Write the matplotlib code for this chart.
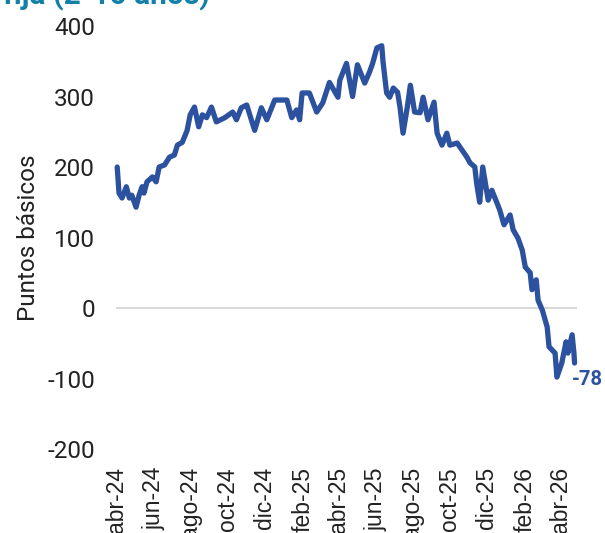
import numpy as np
import pandas as pd
import matplotlib
matplotlib.use("Agg")
import matplotlib.pyplot as plt

# spread series, basis points
dates = [
    "2024-04-02", "2024-04-05", "2024-04-10", "2024-04-17", "2024-04-22", "2024-04-26",
    "2024-05-03", "2024-05-08", "2024-05-13", "2024-05-16", "2024-05-21", "2024-05-30",
    "2024-06-05", "2024-06-10", "2024-06-19", "2024-06-27", "2024-07-05", "2024-07-10",
    "2024-07-18", "2024-07-26", "2024-07-31", "2024-08-07", "2024-08-14", "2024-08-20",
    "2024-08-27", "2024-09-04", "2024-09-12", "2024-09-26", "2024-10-09", "2024-10-15",
    "2024-10-23", "2024-11-01", "2024-11-14", "2024-11-25", "2024-12-04", "2024-12-17",
    "2025-01-06", "2025-01-14", "2025-01-22", "2025-01-27", "2025-01-31", "2025-02-12",
    "2025-02-24", "2025-03-06", "2025-03-17", "2025-03-31", "2025-04-03", "2025-04-14",
    "2025-04-24", "2025-05-02", "2025-05-14", "2025-05-22", "2025-05-27", "2025-06-03",
    "2025-06-11", "2025-06-13", "2025-06-19", "2025-06-24", "2025-06-30", "2025-07-07",
    "2025-07-11", "2025-07-16", "2025-07-23", "2025-07-28", "2025-08-04", "2025-08-13",
    "2025-08-18", "2025-08-26", "2025-09-05", "2025-09-10", "2025-09-18", "2025-09-26",
    "2025-10-01", "2025-10-13", "2025-10-21", "2025-10-29", "2025-11-03", "2025-11-07",
    "2025-11-11", "2025-11-14", "2025-11-19", "2025-11-24", "2025-12-03", "2025-12-09",
    "2025-12-17", "2025-12-22", "2025-12-29", "2026-01-08", "2026-01-13", "2026-01-21",
    "2026-01-28", "2026-02-02", "2026-02-10", "2026-02-13", "2026-02-20", "2026-02-23",
    "2026-03-02", "2026-03-10", "2026-03-13", "2026-03-23", "2026-03-26", "2026-04-03",
    "2026-04-10", "2026-04-13", "2026-04-20", "2026-04-23", "2026-04-24",
]
spread = [
    200, 163, 156, 172, 156, 160,
    143, 160, 172, 163, 179, 186,
    179, 200, 203, 214, 217, 231,
    235, 252, 274, 285, 257, 274,
    270, 285, 264, 270, 278, 267,
    284, 288, 252, 284, 267, 295,
    295, 270, 281, 267, 305, 305,
    278, 291, 320, 299, 323, 347,
    300, 345, 319, 335, 347, 369,
    372, 350, 305, 299, 312, 306,
    285, 248, 285, 316, 278, 277,
    299, 267, 292, 248, 231, 248,
    231, 234, 224, 214, 206, 203,
    200, 177, 150, 200, 153, 167,
    150, 139, 118, 132, 111, 99,
    82, 58, 50, 26, 40, 11,
    -3, -27, -55, -64, -98, -78,
    -48, -64, -38, -64, -78,
]

tick_dates = ["2024-04-01", "2024-06-01", "2024-08-01", "2024-10-01", "2024-12-01",
              "2025-02-01", "2025-04-01", "2025-06-01", "2025-08-01", "2025-10-01",
              "2025-12-01", "2026-02-01", "2026-04-01"]
tick_labels = ["abr-24", "jun-24", "ago-24", "oct-24", "dic-24", "feb-25", "abr-25",
               "jun-25", "ago-25", "oct-25", "dic-25", "feb-26", "abr-26"]
y_ticks = [-200, -100, 0, 100, 200, 300, 400]

x = pd.to_datetime(dates)
line_color = "#2B519F"

fig = plt.figure(figsize=(6.05, 5.33), dpi=100)
ax = fig.add_axes([0.1917, 0.1576, 0.762, 0.7936])

ax.axhline(0, color="#D9D9D9", lw=1.5, zorder=1)
ax.plot(x, spread, color=line_color, lw=3.8, solid_joinstyle="round",
        solid_capstyle="round", zorder=3, clip_on=False)

ax.annotate(f"{spread[-1]:.0f}", xy=(x[-1], spread[-1]), xytext=(-2, -12),
            textcoords="offset points", ha="left", va="center",
            fontsize=14.5, fontweight="bold", color=line_color, family="Roboto",
            annotation_clip=False)

ax.set_ylim(-200, 400)
ax.set_yticks(y_ticks)
ax.set_yticklabels([str(v) for v in y_ticks], family="Roboto", fontsize=17.5, color="#222222")
ax.set_xlim(pd.Timestamp("2024-03-31"), pd.Timestamp("2026-04-28"))
ax.set_xticks(pd.to_datetime(tick_dates))
ax.set_xticklabels(tick_labels, rotation=90, family="Liberation Sans", fontsize=16.5,
                   color="#222222")
ax.tick_params(axis="x", length=0, pad=13)
ax.tick_params(axis="y", length=0, pad=15)

for s in ax.spines.values():
    s.set_visible(False)

ax.set_ylabel("Puntos básicos", family="Roboto", fontsize=17.5, color="#222222")
ax.yaxis.set_label_coords(-0.165, 0.5)

fig.text(0.005, 0.992, "fija (2-10 años)", family="Roboto", fontweight="bold",
         fontsize=21.5, color="#1380A8", ha="left", va="baseline")

fig.savefig("out.png", dpi=100)
plt.close(fig)
